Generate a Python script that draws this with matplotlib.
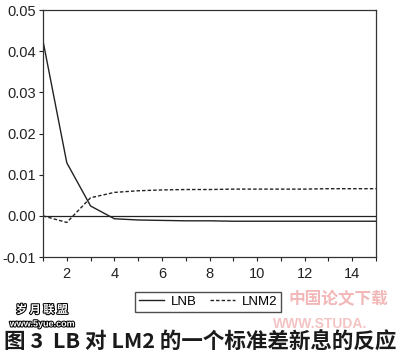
import matplotlib
matplotlib.use("Agg")
import matplotlib.pyplot as plt
import matplotlib.patheffects as pe

periods = list(range(1, 16))
lnb = [0.0425, 0.0129, 0.0024, -0.0007, -0.0010, -0.0011, -0.0012, -0.0012,
       -0.0013, -0.0013, -0.0013, -0.0013, -0.0013, -0.0013, -0.0013]
lnm2 = [0.0, -0.0016, 0.0044, 0.0057, 0.0061, 0.0063, 0.0064, 0.0064,
        0.0065, 0.0065, 0.0065, 0.0065, 0.0066, 0.0066, 0.0066]
yticks = [-0.01, 0.00, 0.01, 0.02, 0.03, 0.04, 0.05]
xticks_labeled = [2, 4, 6, 8, 10, 12, 14]
caption = "图 3  LB 对 LM2 的一个标准差新息的反应"

plt.rcParams['font.family'] = ['Liberation Sans', 'Noto Sans CJK SC', 'DejaVu Sans']

fig = plt.figure(figsize=(4.0, 3.58), dpi=100)
ax = fig.add_axes([0.1075, 0.282, 0.8325, 0.690])

# faint watermarks (kept clear of the chart texts)
fig.text(0.845, 0.165, "中国论文下载", fontsize=12, color='#f2b8b8',
         ha='center', va='center', family=['Noto Sans CJK SC'], fontweight='bold', zorder=0)
fig.text(0.80, 0.095, "WWW.STUDA.", fontsize=10, color='#f4c4c4',
         ha='center', va='center', fontweight='bold', zorder=0)

ax.axhline(0, color='#222222', lw=0.9)
l1, = ax.plot(periods, lnb, color='#222222', lw=1.0, label='LNB')
l2, = ax.plot(periods, lnm2, color='#222222', lw=1.0, ls=(0, (2.5, 1.5)), label='LNM2')

ax.set_xlim(1, 15)
ax.set_ylim(-0.01, 0.05)
ax.set_yticks(yticks)
ax.set_yticklabels([f"{v:.2f}" for v in yticks])
ax.set_xticks(periods, minor=False)
ax.set_xticklabels([str(p) if p in xticks_labeled else "" for p in periods])
ax.tick_params(axis='both', direction='out', length=3, width=0.8, labelsize=10.5,
               colors='#222222')
ax.tick_params(axis='y', pad=2)
ax.tick_params(axis='x', pad=4)
for s in ax.spines.values():
    s.set_color('#333333')
    s.set_linewidth(0.9)
ax.patch.set_alpha(0)

fig.legend(handles=[l1, l2], loc='center', bbox_to_anchor=(0.52, 0.157), ncol=2,
           frameon=True, fancybox=False, edgecolor='#222222', fontsize=9.5,
           handlelength=1.9, columnspacing=1.0, borderpad=0.3, handletextpad=0.5)

fig.text(0.5, 0.045, caption, fontsize=15.5, color='#1a1a1a', ha='center', va='center',
         family=['Noto Sans CJK SC', 'DejaVu Sans'], fontweight='bold')

fig.text(0.105, 0.135, "岁 月 联 盟", fontsize=8, color='white', ha='center', va='center',
         family=['Noto Sans CJK SC'], fontweight='bold',
         path_effects=[pe.withStroke(linewidth=1.5, foreground='black')])
fig.text(0.105, 0.095, "www.5yue.com", fontsize=6.5, color='white', ha='center', va='center',
         fontweight='bold', path_effects=[pe.withStroke(linewidth=1.5, foreground='black')])

fig.savefig("out.png", dpi=100, facecolor='white')
